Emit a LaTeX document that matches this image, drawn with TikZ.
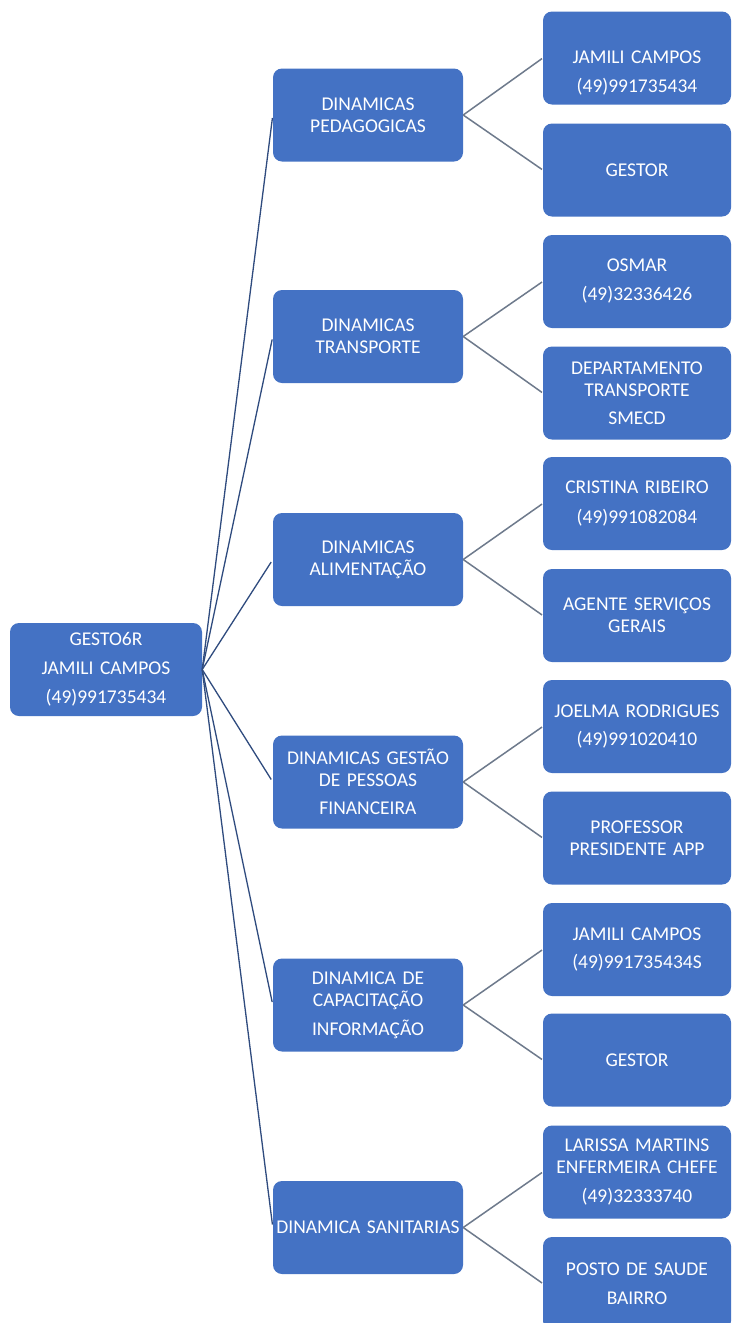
\documentclass[tikz,border=0pt]{standalone}
\usepackage{fontspec}
\setmainfont{Carlito}
\definecolor{boxblue}{HTML}{4472C4}
\definecolor{rootline}{HTML}{2F4B7E}
\definecolor{leafline}{HTML}{6E7A8C}
\tikzset{
  box/.style={fill=boxblue, rounded corners=9pt, minimum height=93pt, text=white,
    align=center, font=\fontsize{19.5}{22}\selectfont, inner sep=0pt},
  midbox/.style={box, minimum width=190pt, text width=190pt},
  leafbox/.style={box, minimum width=188pt, text width=188pt},
  rootbox/.style={box, minimum width=192pt, text width=192pt},
  plaintext/.style={text=white, align=center, font=\fontsize{19.5}{22}\selectfont, inner sep=0pt, text width=188pt},
  rootlink/.style={draw=rootline, line width=1.3pt, shorten >=3pt},
  leaflink/.style={draw=leafline, line width=1.5pt, shorten >=1pt},
}
\begin{document}
\begin{tikzpicture}[x=1pt, y=-1pt]
\useasboundingbox (0,0) rectangle (732,1323);
\clip (0,0) rectangle (732,1323);
\fill[white] (0,0) rectangle (732,1323);
% root
\node[rootbox] (root) at (106,669.5) {GESTO6R\\[7pt]JAMILI CAMPOS\\[7pt](49)991735434};
% middle level
\node[midbox] (m1) at (368,115) {DINAMICAS\\PEDAGOGICAS};
\node[midbox] (m2) at (368,336.5) {DINAMICAS\\TRANSPORTE};
\node[midbox] (m3) at (368,559.5) {DINAMICAS\\ALIMENTAÇÃO};
\node[midbox] (m4) at (368,782) {DINAMICAS GESTÃO\\DE PESSOAS\\[6pt]FINANCEIRA};
\node[midbox] (m5) at (368,1005) {DINAMICA DE\\CAPACITAÇÃO\\[7pt]INFORMAÇÃO};
\node[midbox] (m6) at (368,1227.5) {DINAMICA SANITARIAS};
% leaves
\node[leafbox] (r1) at (637,58) {};
\node[plaintext] (r1t) at (637,73) {JAMILI CAMPOS\\[7pt](49)991735434};
\node[leafbox] (r2) at (637,170) {GESTOR};
\node[leafbox] (r3) at (637,281.5) {OSMAR\\[7pt](49)32336426};
\node[leafbox] (r4) at (637,393) {DEPARTAMENTO\\TRANSPORTE\\[6pt]SMECD};
\node[leafbox] (r5) at (637,503.5) {CRISTINA RIBEIRO\\[8pt](49)991082084};
\node[leafbox] (r6) at (637,615.5) {AGENTE SERVIÇOS\\GERAIS};
\node[leafbox] (r7) at (637,726.5) {JOELMA RODRIGUES\\[6pt](49)991020410};
\node[leafbox] (r8) at (637,838) {PROFESSOR\\PRESIDENTE APP};
\node[leafbox] (r9) at (637,949.5) {JAMILI CAMPOS\\[6pt](49)991735434S};
\node[leafbox] (r10) at (637,1060) {GESTOR};
\node[leafbox] (r11) at (637,1172) {LARISSA MARTINS\\ENFERMEIRA CHEFE\\[7pt](49)32333740};
\node[leafbox] (r12) at (637,1283.5) {POSTO DE SAUDE\\[7pt]BAIRRO};
% connectors root -> middle
\foreach \m in {m1,m2,m3,m4,m5,m6}
  \draw[rootlink] (root.east) -- (\m.west);
% connectors middle -> leaves
\draw[leaflink] (m1.east) -- (r1.west);
\draw[leaflink] (m1.east) -- (r2.west);
\draw[leaflink] (m2.east) -- (r3.west);
\draw[leaflink] (m2.east) -- (r4.west);
\draw[leaflink] (m3.east) -- (r5.west);
\draw[leaflink] (m3.east) -- (r6.west);
\draw[leaflink] (m4.east) -- (r7.west);
\draw[leaflink] (m4.east) -- (r8.west);
\draw[leaflink] (m5.east) -- (r9.west);
\draw[leaflink] (m5.east) -- (r10.west);
\draw[leaflink] (m6.east) -- (r11.west);
\draw[leaflink] (m6.east) -- (r12.west);
\end{tikzpicture}
\end{document}
